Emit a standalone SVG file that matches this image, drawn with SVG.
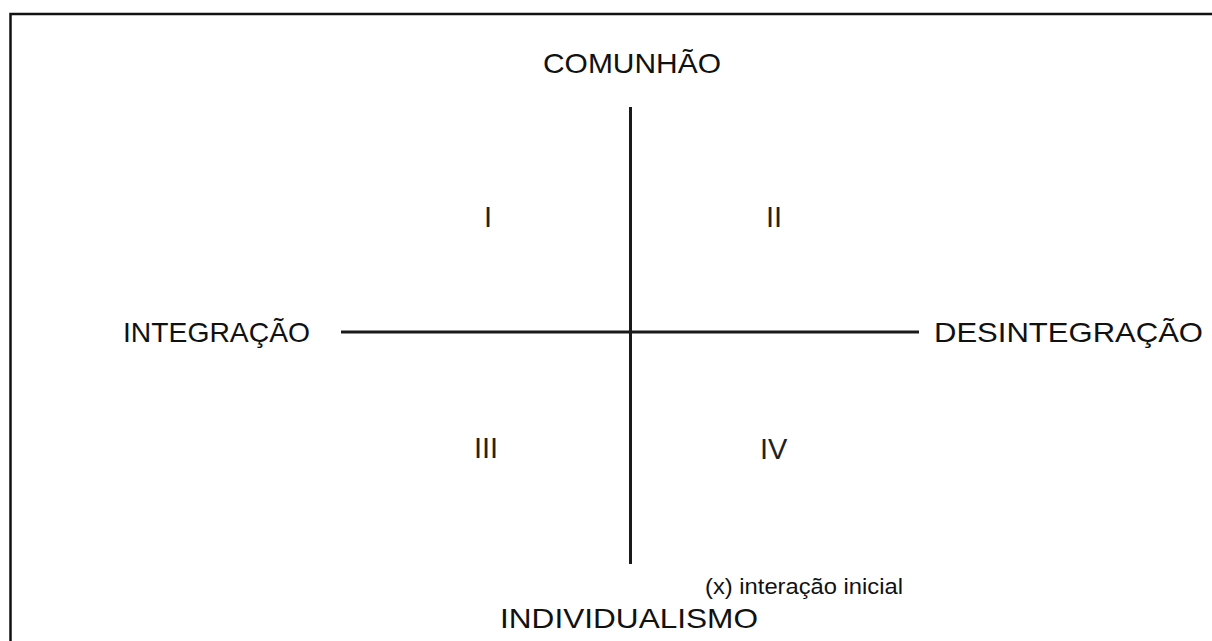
<svg xmlns="http://www.w3.org/2000/svg" width="1212" height="641" viewBox="0 0 1212 641">
<style>
.lbl{font-family:"Liberation Sans",Arial,sans-serif;fill:#111;font-size:28px}
.num{font-family:"Liberation Sans",Arial,sans-serif;fill:#222;font-size:29px}
.note{font-family:"Liberation Sans",Arial,sans-serif;fill:#111;font-size:22px}
.ax{stroke:#1a1a1a;stroke-width:3;fill:none}
.frame{stroke:#111;stroke-width:2.5;fill:none}
</style>
<rect width="1212" height="641" fill="#fff"/>
<g id="frame"><path class="frame" d="M10.5,641 V14 H1212"/></g>
<g id="connectors">
<line class="ax" x1="630.5" y1="107" x2="630.5" y2="564"/>
<line class="ax" x1="341" y1="332" x2="919" y2="332"/>
</g>
<g id="comunhao"><text class="lbl" x="543" y="73" textLength="178" lengthAdjust="spacingAndGlyphs">COMUNHÃO</text></g>
<g id="integracao"><text class="lbl" x="123" y="342" textLength="187" lengthAdjust="spacingAndGlyphs">INTEGRAÇÃO</text></g>
<g id="desintegracao"><text class="lbl" x="934" y="342" textLength="269" lengthAdjust="spacingAndGlyphs">DESINTEGRAÇÃO</text></g>
<g id="individualismo"><text class="lbl" x="500" y="628" textLength="258" lengthAdjust="spacingAndGlyphs">INDIVIDUALISMO</text></g>
<g id="nota"><text class="note" x="705" y="594" textLength="198" lengthAdjust="spacingAndGlyphs">(x) interação inicial</text></g>
<g id="q1"><text class="num" x="484" y="227">I</text></g>
<g id="q2"><text class="num" x="766" y="227">II</text></g>
<g id="q3"><text class="num" x="474" y="458">III</text></g>
<g id="q4"><text class="num" x="760" y="459">IV</text></g>
</svg>
